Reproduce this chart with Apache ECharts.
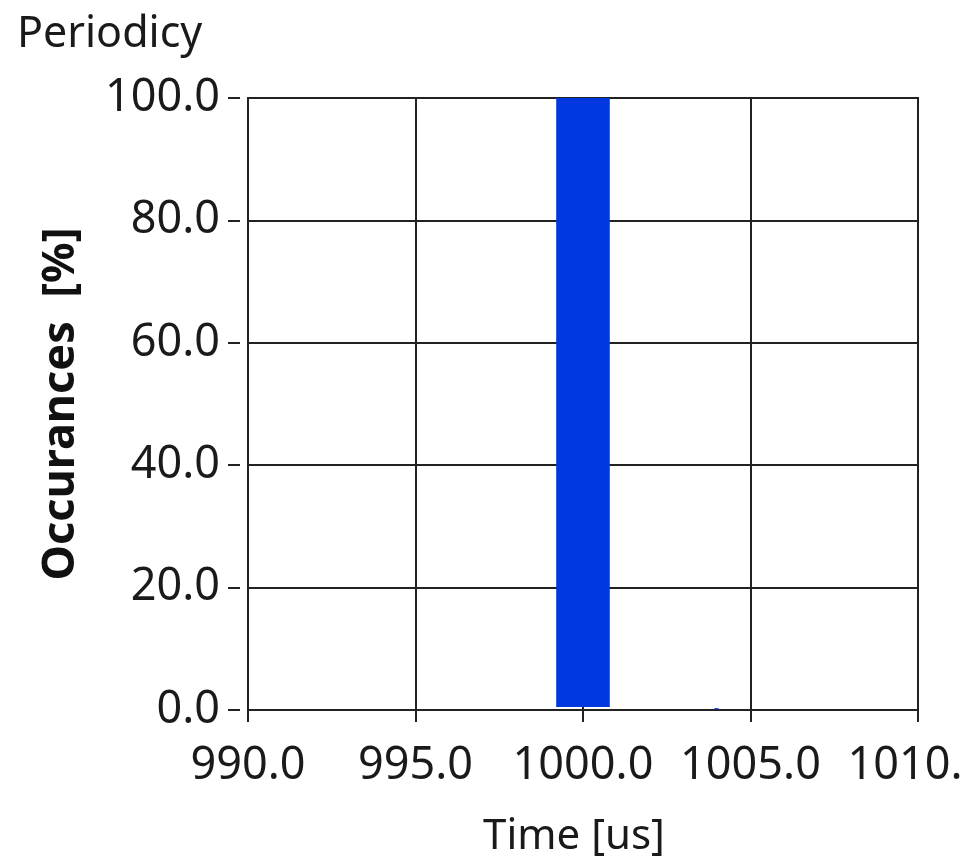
<!DOCTYPE html>
<html>
<head>
<meta charset="utf-8">
<script src="https://cdn.jsdelivr.net/npm/echarts@6/dist/echarts.min.js"></script>
<style>
html,body{margin:0;padding:0;background:#fff;}
#chart{width:965px;height:861px;}
</style>
</head>
<body>
<div id="chart"></div>
<script>
// Histogram bins: [start (us), end (us), occurrences (%)]
const binStart = [999.2, 1003.92];
const binEnd = [1000.8, 1004.05];
const binValue = [100, 0.3];
const xTicks = [990, 995, 1000, 1005, 1010];
const yTicks = [0, 20, 40, 60, 80, 100];

const data = binStart.map((s, i) => [s, binEnd[i], binValue[i]]);
const FONT = '"Noto Sans", "Open Sans", sans-serif';

const chart = echarts.init(document.getElementById('chart'));
chart.setOption({
  animation: false,
  backgroundColor: '#fff',
  title: {
    text: 'Periodicy',
    left: 12, top: 8,
    textStyle: {fontFamily: FONT, fontSize: 43, fontWeight: 'normal', color: '#1a1a1a'}
  },
  grid: {
    left: 248, right: 47, top: 98, bottom: 151,
    outerBoundsMode: 'none', containLabel: false,
    show: true, borderColor: '#222', borderWidth: 2, backgroundColor: 'transparent'
  },
  xAxis: {
    type: 'value', min: 990, max: 1010, interval: 5,
    name: 'Time [us]', nameLocation: 'middle', nameGap: 98,
    nameTextStyle: {fontFamily: FONT, fontSize: 42, color: '#1a1a1a', padding: [0, 18, 0, 0]},
    offset: 8,
    axisLine: {show: false},
    axisTick: {show: true, length: 12, lineStyle: {color: '#222', width: 2}},
    axisLabel: {fontFamily: FONT, fontSize: 45, color: '#1a1a1a', margin: 26,
      formatter: v => v.toFixed(1)},
    splitLine: {show: true, lineStyle: {color: '#222', width: 2}}
  },
  yAxis: {
    type: 'value', min: 0, max: 100, interval: 20,
    name: 'Occurances  [%]', nameLocation: 'middle', nameGap: 156, nameRotate: 90,
    nameTextStyle: {fontFamily: FONT, fontSize: 45, fontWeight: 'bold', color: '#111'},
    offset: 8,
    axisLine: {show: false},
    axisTick: {show: true, length: 12, lineStyle: {color: '#222', width: 2}},
    axisLabel: {fontFamily: FONT, fontSize: 45, color: '#1a1a1a', margin: 20,
      formatter: v => v.toFixed(1)},
    splitLine: {show: true, lineStyle: {color: '#222', width: 2}}
  },
  series: [{
    type: 'custom',
    data: data,
    encode: {x: [0, 1], y: 2},
    renderItem: function (params, api) {
      const p0 = api.coord([api.value(0), api.value(2)]);
      const p1 = api.coord([api.value(1), 0]);
      const h = Math.max(p1[1] - p0[1] - 3, 1);
      return {
        type: 'rect',
        shape: {x: p0[0], y: p0[1], width: p1[0] - p0[0], height: h},
        style: {fill: '#0038e0'}
      };
    }
  }]
});
</script>
</body>
</html>
